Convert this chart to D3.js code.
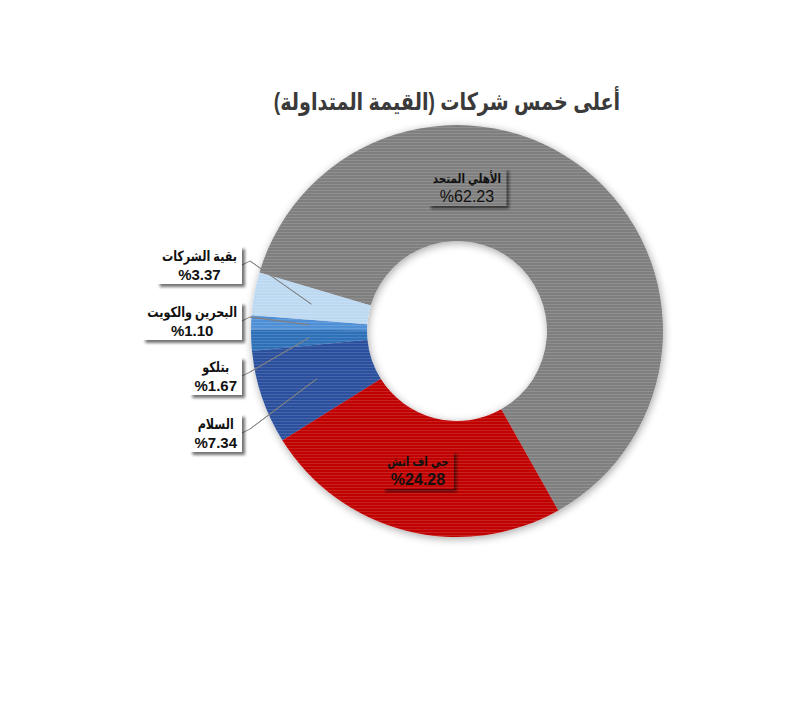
<!DOCTYPE html>
<html>
  <head>
    <meta charset="utf-8">
    <title>أعلى خمس شركات</title>
    <script src="https://d3js.org/d3.v7.min.js" charset="utf-8"></script>
    <style>
      body{ margin:0; background:#fff; }
      svg{ display:block; background:#fff; }
      text{ font-family: 'Liberation Sans', 'DejaVu Sans', sans-serif; }
    </style>
  </head>
  <body>
    <div id="chart"></div>
    <script>

    // data
    var names  = ["الأهلي المتحد", "جي اف اتش", "السلام", "بتلكو", "البحرين والكويت", "بقية الشركات"];
    var values = [62.23, 24.28, 7.34, 1.67, 1.10, 3.37];
    var colors = ["#7f7f7f", "#c00000", "#2c509c", "#2f6fb8", "#4f8fd6", "#bdd9f2"];
    var title  = "أعلى خمس شركات (القيمة المتداولة)";

    // layout
    var width = 800, height = 722;
    var cx = 457, cy = 331, rOuter = 206, rInner = 90;
    var startDeg = -73.5;
    var squeeze = 0.8;   // DejaVu arabic runs wider than the original font

    var svg = d3.select("#chart").append("svg").attr("width", width).attr("height", height);
    var defs = svg.append("defs");

    // scan-like horizontal stripes
    var pat = defs.append("pattern").attr("id", "stripes")
        .attr("patternUnits", "userSpaceOnUse").attr("width", 8).attr("height", 3);
    pat.append("rect").attr("x", 0).attr("y", 0).attr("width", 8).attr("height", 1)
        .attr("fill", "#fff").attr("fill-opacity", 0.13);

    var halo = defs.append("filter").attr("id", "halo")
        .attr("x", "-20%").attr("y", "-20%").attr("width", "140%").attr("height", "140%");
    halo.append("feGaussianBlur").attr("in", "SourceAlpha").attr("stdDeviation", 4).attr("result", "b");
    halo.append("feOffset").attr("in", "b").attr("dx", 1).attr("dy", 2).attr("result", "o");
    halo.append("feComponentTransfer").attr("in", "o").attr("result", "s")
        .append("feFuncA").attr("type", "linear").attr("slope", 0.35);
    var hm = halo.append("feMerge");
    hm.append("feMergeNode").attr("in", "s");
    hm.append("feMergeNode").attr("in", "SourceGraphic");

    var boxShadow = defs.append("filter").attr("id", "boxShadow")
        .attr("x", "-20%").attr("y", "-30%").attr("width", "150%").attr("height", "170%");
    boxShadow.append("feGaussianBlur").attr("in", "SourceAlpha").attr("stdDeviation", 1.5).attr("result", "b");
    boxShadow.append("feOffset").attr("in", "b").attr("dx", 3).attr("dy", 3).attr("result", "o");
    boxShadow.append("feComponentTransfer").attr("in", "o").attr("result", "s")
        .append("feFuncA").attr("type", "linear").attr("slope", 0.55);
    var bm = boxShadow.append("feMerge");
    bm.append("feMergeNode").attr("in", "s");
    bm.append("feMergeNode").attr("in", "SourceGraphic");

    function squeezeText(t, k) {
        var n = t.node().getComputedTextLength();
        t.attr("textLength", n * k).attr("lengthAdjust", "spacingAndGlyphs");
        return n * k;
    }

    // title
    var titleText = svg.append("text")
        .attr("x", 447).attr("y", 110)
        .attr("direction", "rtl")
        .attr("text-anchor", "middle")
        .style("font-size", "24px")
        .style("font-weight", 700)
        .attr("fill", "#3a3a3a")
        .text(title);
    squeezeText(titleText, squeeze);

    //******
    // donut
    //******
    var data = names.map((n, i) => ({name: n, value: values[i], color: colors[i]}));

    var a0 = startDeg * Math.PI / 180;
    var pie = d3.pie().sort(null).value(d => d.value).startAngle(a0).endAngle(a0 + 2 * Math.PI);
    var arcs = pie(data);

    var arc = d3.arc().innerRadius(rInner).outerRadius(rOuter);
    var midArc = d3.arc().innerRadius((rInner + rOuter) / 2).outerRadius((rInner + rOuter) / 2);

    var donut = svg.append("g").attr("transform", `translate(${cx},${cy})`);

    donut.append("g").attr("filter", "url(#halo)")
        .selectAll("path").data(arcs).enter().append("path")
        .attr("d", arc)
        .attr("fill", d => d.data.color);

    // label layout: index -> box placement
    // inner labels centred, outer labels right-aligned at x=242
    var labelLayout = {
        0: {inside: true, cx: 467, top: 168, bold: false},
        1: {inside: true, cx: 418, top: 451, bold: true},
        2: {inside: false, right: 242, top: 414, bold: true},
        3: {inside: false, right: 242, top: 357, bold: true},
        4: {inside: false, right: 242, top: 302, bold: true},
        5: {inside: false, right: 242, top: 246, bold: true}
    };

    var leaders = svg.append("g");
    var boxes = svg.append("g");
    var stripes = svg.append("g").attr("transform", `translate(${cx},${cy})`);
    var texts = svg.append("g");

    arcs.forEach(function(a, i) {
        var L = labelLayout[i];
        var inside = L.inside;
        var g = texts.append("g");
        var t1 = g.append("text")
            .attr("text-anchor", "middle")
            .style("font-size", inside ? "13px" : "14px")
            .style("font-weight", 700)
            .attr("fill", "#111")
            .text(a.data.name);
        var w1 = squeezeText(t1, squeeze);
        var t2 = g.append("text")
            .attr("text-anchor", "middle")
            .style("font-size", inside ? "16px" : "15px")
            .style("font-weight", L.bold ? 700 : 400)
            .attr("fill", "#111")
            .text("%" + a.data.value.toFixed(2));

        var w = Math.max(w1, t2.node().getComputedTextLength()) + 10;
        var h = 38;
        var xc = inside ? L.cx : L.right - w / 2;
        t1.attr("x", xc).attr("y", L.top + 15);
        t2.attr("x", xc).attr("y", L.top + 34);

        boxes.append("rect")
            .attr("x", xc - w / 2).attr("y", L.top)
            .attr("width", w).attr("height", h)
            .attr("fill", inside ? a.data.color : "#fff")
            .attr("filter", "url(#boxShadow)");

        if (!inside) {
            var c = midArc.centroid(a);
            var sx = L.right, sy = L.top + h / 2;
            leaders.append("path")
                .attr("d", d3.line()([[sx, sy], [sx + 8, sy - 4], [cx + c[0], cy + c[1]]]))
                .attr("fill", "none")
                .attr("stroke", "#8a8a8a")
                .attr("stroke-width", 1);
        }
    });

    stripes.selectAll("path").data(arcs).enter().append("path")
        .attr("d", arc)
        .attr("fill", "url(#stripes)");

    // leader tails drawn over the slices
    arcs.forEach(function(a, i) {
        var L = labelLayout[i];
        if (L.inside) return;
        var c = midArc.centroid(a);
        texts.append("path")
            .attr("d", d3.line()([[L.right + 8, L.top + 15], [cx + c[0], cy + c[1]]]))
            .attr("fill", "none")
            .attr("stroke", "#7a7a7a")
            .attr("stroke-opacity", 0.8)
            .attr("stroke-width", 1);
    });

    </script>
  </body>
</html>
